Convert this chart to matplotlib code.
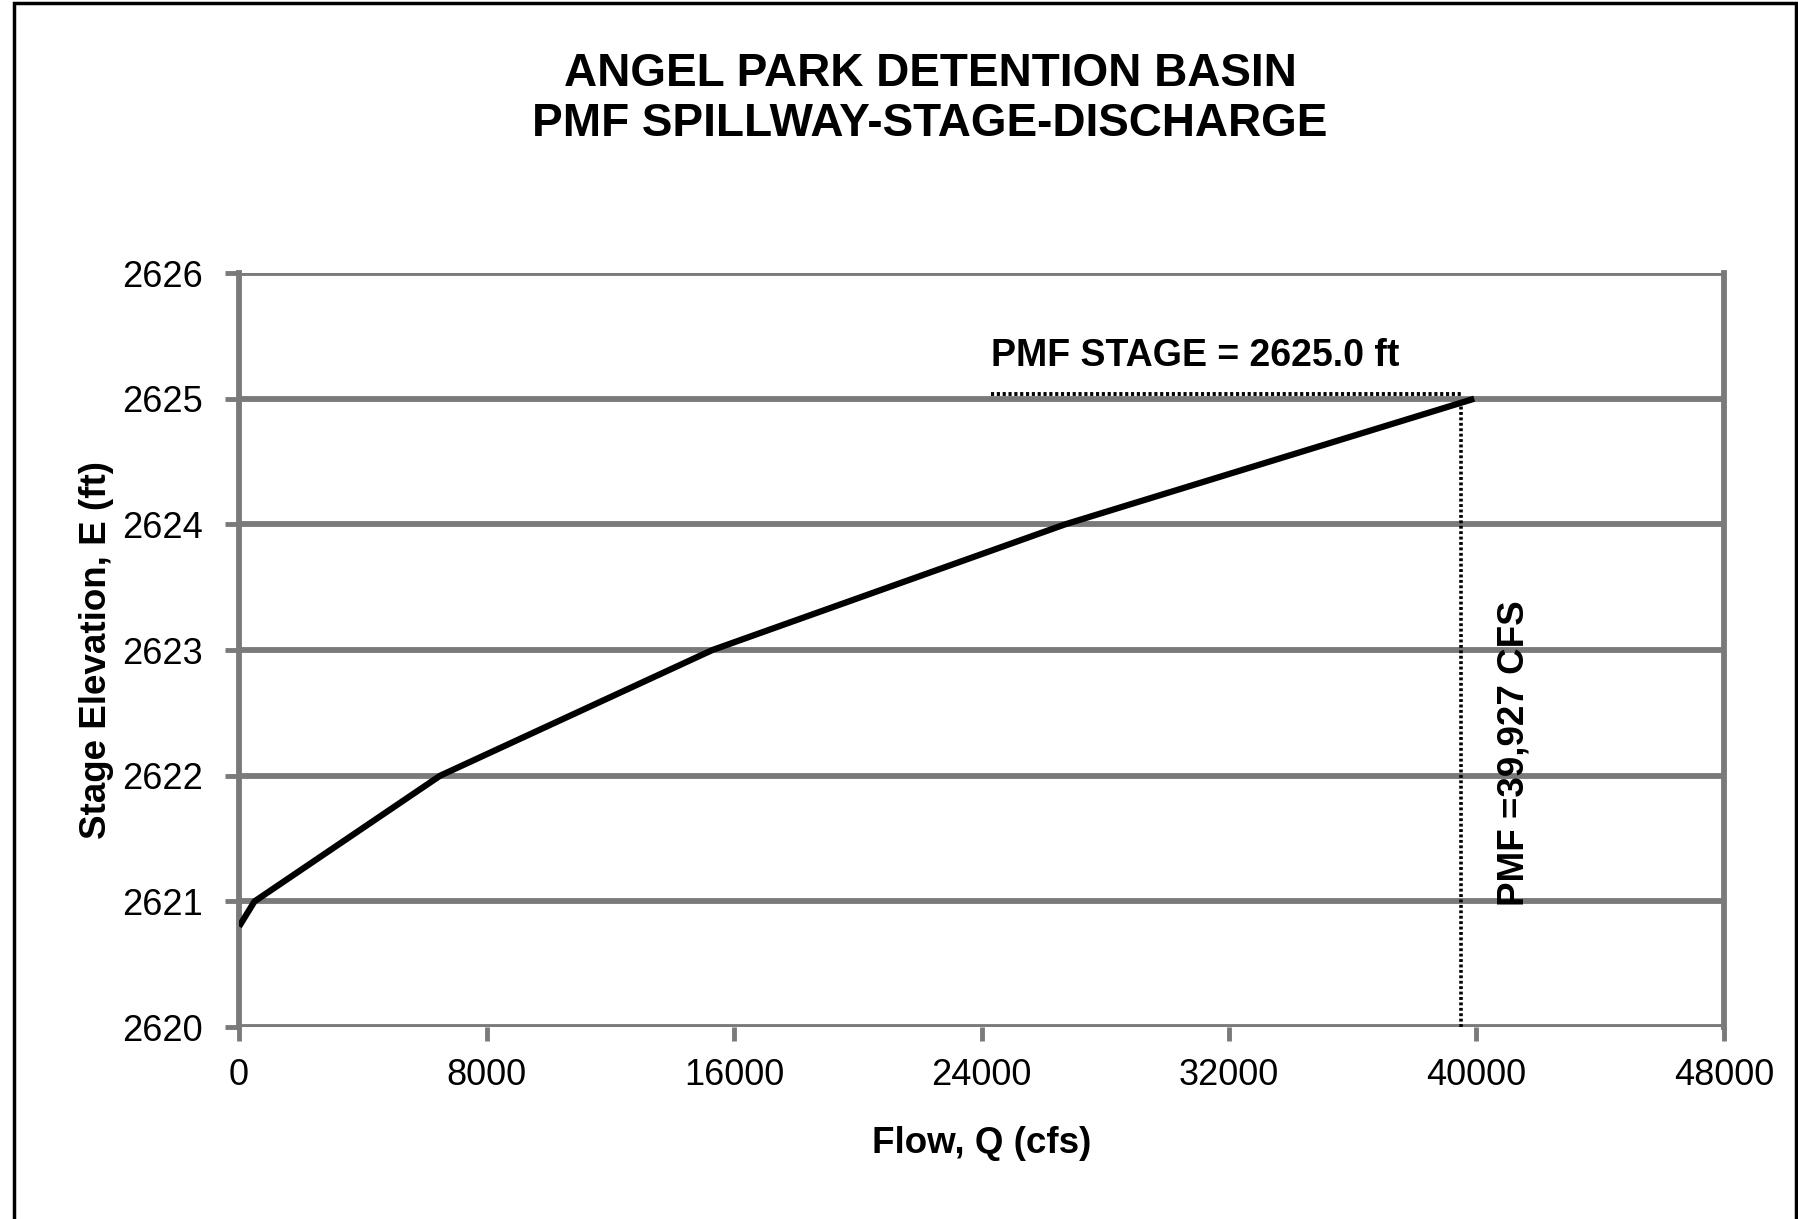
import matplotlib
matplotlib.use("Agg")
import matplotlib.pyplot as plt
from matplotlib.patches import Rectangle

plt.rcParams['font.family'] = ['Liberation Sans', 'DejaVu Sans']

# Data
flow_cfs = [0, 500, 6500, 15300, 26700, 39927]
stage_ft = [2620.8, 2621.0, 2622.0, 2623.0, 2624.0, 2625.0]
x_ticks = [0, 8000, 16000, 24000, 32000, 40000, 48000]
y_ticks = [2620, 2621, 2622, 2623, 2624, 2625, 2626]
pmf_stage = 2625.0
pmf_flow = 39927
pmf_line_x = 39500
stage_line_start = 24300

fig = plt.figure(figsize=(17.99, 12.19), dpi=100)
ax = fig.add_axes([0.1329, 0.1575, 0.9583 - 0.1329, 0.776 - 0.1575])

grid_c = '#7a7a7a'
for y in y_ticks:
    ax.axhline(y, color=grid_c, lw=4.2, zorder=1)

ax.plot(flow_cfs, stage_ft, color='black', lw=4.5, zorder=4, solid_capstyle='butt')

ax.plot([stage_line_start, pmf_line_x], [pmf_stage + 0.035, pmf_stage + 0.035],
        color='black', lw=2.8, ls=(0, (0.8, 0.7)), zorder=3)
ax.plot([pmf_line_x, pmf_line_x], [2620, pmf_stage],
        color='black', lw=2.6, ls=(0, (0.8, 0.7)), zorder=3)

ax.text(30900, 2625.34, 'PMF STAGE = 2625.0 ft', ha='center', va='center',
        fontsize=27, fontweight='bold')
ax.text(41200, 2622.18, 'PMF =39,927 CFS', ha='center', va='center',
        rotation=90, fontsize=26.5, fontweight='bold')

ax.set_xlim(0, 48000)
ax.set_ylim(2620, 2626)
ax.set_xticks(x_ticks)
ax.set_yticks(y_ticks)
ax.set_xticklabels([str(v) for v in x_ticks])
ax.set_yticklabels([str(v) for v in y_ticks])
ax.tick_params(axis='both', labelsize=26, color=grid_c, width=3.5, length=10, direction='out')
ax.tick_params(axis='x', pad=12)
ax.tick_params(axis='y', pad=16)

for side in ['left', 'right']:
    ax.spines[side].set_color(grid_c)
    ax.spines[side].set_linewidth(4.2)
for side in ['top', 'bottom']:
    ax.spines[side].set_visible(False)

ax.set_xlabel('Flow, Q (cfs)', fontsize=26.5, fontweight='bold', labelpad=24)
ax.set_ylabel('Stage Elevation, E (ft)', fontsize=26.5, fontweight='bold', labelpad=6)

fig.text(0.517, 0.939, 'ANGEL PARK DETENTION BASIN', ha='center', va='center',
         fontsize=33, fontweight='bold')
fig.text(0.517, 0.898, 'PMF SPILLWAY-STAGE-DISCHARGE', ha='center', va='center',
         fontsize=33, fontweight='bold')

fig.patches.append(Rectangle((14 / 1799, -0.1), (1796 - 14) / 1799, 1.1 - 3 / 1219,
                             transform=fig.transFigure, fill=False,
                             edgecolor='black', lw=2.5))

fig.savefig('out.png', dpi=100, facecolor='white')
